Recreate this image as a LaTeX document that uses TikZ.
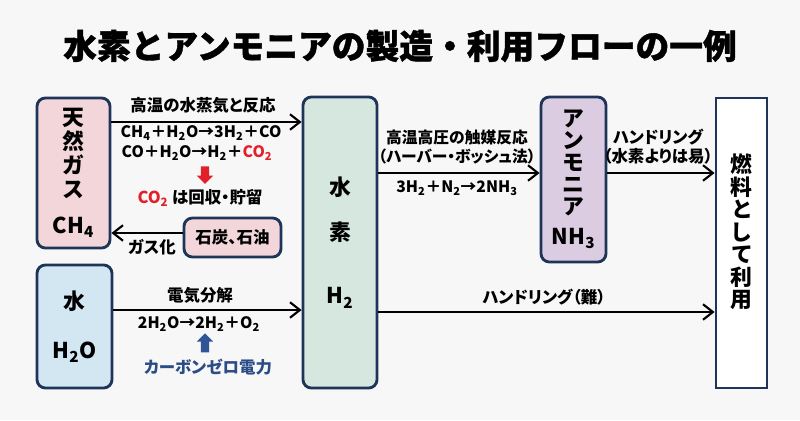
\documentclass[tikz,border=0pt]{standalone}
\usepackage{fontspec}
\setmainfont{Noto Sans CJK JP}[RawFeature=+palt]
\newfontfamily\titlefont{Noto Sans CJK JP}[BoldFeatures={FakeBold=1.2}]
\usetikzlibrary{arrows.meta,shapes.arrows}
\definecolor{bgc}{HTML}{F7F7F7}
\definecolor{navy}{HTML}{1F3459}
\definecolor{gasc}{HTML}{F2D6D9}
\definecolor{waterc}{HTML}{D2E7F1}
\definecolor{h2c}{HTML}{D6E7DF}
\definecolor{nh3c}{HTML}{DCCCE1}
\definecolor{co2red}{HTML}{E3202A}
\definecolor{upblue}{HTML}{2F5597}
\definecolor{powerc}{HTML}{2C4C86}
\begin{document}
\begin{tikzpicture}[x=0.025cm,y=-0.025cm,
    box/.style={draw=navy,line width=2pt,rounded corners=6pt,inner sep=0pt,align=center},
    flow/.style={-{Straight Barb[length=7pt,width=11pt]},line width=1.5pt},
    lbl/.style={font=\fontsize{11.7}{13.5}\selectfont\bfseries,align=center,inner sep=0pt},
    eqn/.style={lbl,font=\fontsize{11.2}{13.5}\selectfont\bfseries},
    big/.style={font=\fontsize{15.5}{17}\selectfont\bfseries},
    blockarrow/.style={single arrow,draw=none,inner sep=2.8pt,single arrow head extend=2.85pt,minimum height=12.5pt}]
  \fill[bgc] (0,0) rectangle (800,420);
  \node[font=\titlefont\fontsize{24}{28}\selectfont\bfseries] (title) at (400,46) {水素とアンモニアの製造・利用フローの一例};

  % boxes
  \node[box,big,fill=gasc,minimum width=1.825cm,minimum height=3.75cm] (gas) at (73.5,173)
    {天\\然\\ガ\\ス\\[9pt]CH\textsubscript{4}};
  \node[box,lbl,fill=gasc,minimum width=2.425cm,minimum height=0.975cm] (coal) at (232.5,237.5) {石炭、石油};
  \node[box,big,fill=waterc,minimum width=1.875cm,minimum height=3.075cm] (water) at (74.5,326.5)
    {水\\[18pt]H\textsubscript{2}O};
  \node[box,big,fill=h2c,minimum width=1.85cm,minimum height=7.275cm] (h2) at (340,242.5)
    {水\\[15pt]素\\[28pt]H\textsubscript{2}};
  \node[box,fill=nh3c,minimum width=1.625cm,minimum height=4.125cm,font=\fontsize{15.5}{15.6}\selectfont\bfseries] (nh3) at (573.5,179.5)
    {ア\\ン\\モ\\ニ\\ア\\[5.5pt]NH\textsubscript{3}};
  \node[draw=navy,line width=2pt,fill=white,minimum width=1.275cm,minimum height=7.25cm] (fuel) at (741.5,243) {};
  \node[align=center,font=\fontsize{15.5}{16}\selectfont\bfseries] (use) at (741.5,232) {燃\\料\\と\\し\\て\\利\\用};

  % heights of the arrows
  \coordinate (y1) at (0,122);
  \coordinate (y2) at (0,233);
  \coordinate (y3) at (0,310);
  \coordinate (y4) at (0,173);
  \coordinate (y5) at (0,312);

  \begin{scope}[flow]
    \draw (gas.east |- y1) to (h2.west |- y1);
    \draw (coal.west |- y2) to (gas.east |- y2);
    \draw (water.east |- y3) to (h2.west |- y3);
    \draw (h2.east |- y4) to (nh3.west |- y4);
    \draw (nh3.east |- y4) to (fuel.west |- y4);
    \draw (h2.east |- y5) to (fuel.west |- y5);
  \end{scope}

  % labels
  \node[lbl] (steam) at (203,105) {高温の水蒸気と反応};
  \node[eqn] (eq1) at (201,133) {CH\textsubscript{4}＋H\textsubscript{2}O→3H\textsubscript{2}＋CO};
  \node[eqn] (eq2) at (197,153) {CO＋H\textsubscript{2}O→H\textsubscript{2}＋\textcolor{co2red}{CO\textsubscript{2}}};
  \node[blockarrow,fill=co2red,rotate=-90] (down) at (205,173) {};
  \node[lbl] (store) at (200,198) {\textcolor{co2red}{CO\textsubscript{2}} は回収・貯留};
  \node[lbl] (gasify) at (152,247) {ガス化};
  \node[lbl] (elec) at (200,295) {電気分解};
  \node[eqn] (eq3) at (199,324) {2H\textsubscript{2}O→2H\textsubscript{2}＋O\textsubscript{2}};
  \node[blockarrow,fill=upblue,rotate=90,minimum height=13.5pt] (up) at (205,345) {};
  \node[lbl,text=powerc] (power) at (208,367) {カーボンゼロ電力};
  \node[lbl,font=\fontsize{11.2}{13.5}\selectfont\bfseries] (haber) at (457,147) {高温高圧の触媒反応\\（ハーバー・ボッシュ法）};
  \node[eqn] (eq4) at (457,188) {3H\textsubscript{2}＋N\textsubscript{2}→2NH\textsubscript{3}};
  \node[lbl] (easy) at (658,146.5) {ハンドリング\\（水素よりは易）};
  \node[lbl] (hard) at (544,297) {ハンドリング（難）};
\end{tikzpicture}
\end{document}
